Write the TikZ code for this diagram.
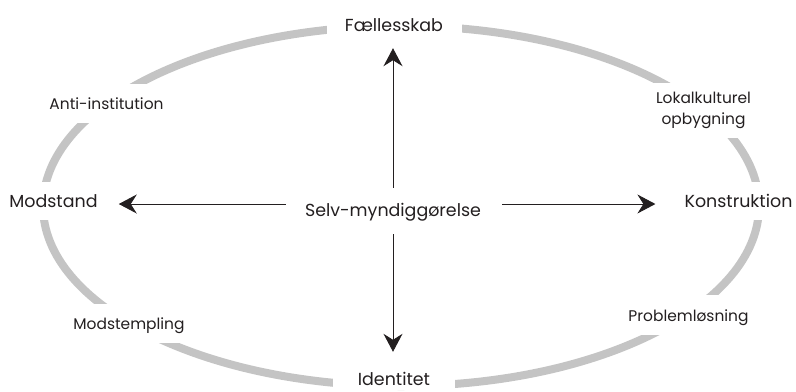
\documentclass[tikz,border=0pt]{standalone}
\usepackage{fontspec}
\setmainfont{Poppins}
\usetikzlibrary{arrows.meta}
\definecolor{RingGray}{HTML}{C4C4C4}
\definecolor{InkGray}{HTML}{231F20}

\begin{document}
\begin{tikzpicture}[x=1bp,y=-1bp,
        ring/.style={draw=RingGray,line width=8bp},
        lab/.style={fill=white,text=InkGray,inner xsep=3bp,inner ysep=5bp,text height=12bp,text depth=0bp},
        big/.style={font=\fontsize{17.5}{20}\selectfont},
        small/.style={font=\fontsize{15.5}{20.5}\selectfont},
        arr/.style={-{Stealth[length=18bp,width=19bp,inset=6bp]},line width=0.9bp,draw=InkGray}]
        \useasboundingbox (0,0) rectangle (796,391);

        % the ring, the labels cut it
        \draw[ring] (401,206) ellipse [x radius=358, y radius=180];

        \node[lab,big,minimum width=135bp] (fael) at (394,25) {Fællesskab};
        \node[lab,big,minimum width=122bp,inner ysep=5bp] (iden) at (394,379) {Identitet};
        \node[lab,big,minimum height=38bp] (mod) at (53.5,201) {Modstand};
        \node[lab,big,minimum height=38bp] (kon) at (738.5,201) {Konstruktion};

        \node[lab,small,minimum height=39bp] (anti) at (106.5,103) {Anti-institution};
        \node[fill=white,text=InkGray,small,align=center,inner sep=3bp,minimum height=55bp] (lok) at (703.5,110.5) {Lokalkulturel\\opbygning};
        \node[lab,small,minimum height=39bp] (modst) at (129,323) {Modstempling};
        \node[lab,small,minimum height=40bp] (prob) at (688.5,315) {Problemløsning};

        \node[text=InkGray,big,inner sep=3bp,text height=12bp,text depth=0bp] (selv) at (393,210) {Selv-myndiggørelse};

        % arrows out of the middle
        \draw[arr,shorten <=13bp,shorten >=12bp] (selv) -- (selv |- fael.south);
        \draw[arr,shorten <=15bp,shorten >=16bp] (selv) -- (selv |- iden.north);
        \draw[arr,shorten <=16bp,shorten >=18bp] ([yshift=6bp]selv.west) -- ([yshift=6bp]selv.west -| mod.east);
        \draw[arr,shorten <=18bp,shorten >=26bp] ([yshift=6bp]selv.east) -- ([yshift=6bp]selv.east -| kon.west);
    \end{tikzpicture}
\end{document}
